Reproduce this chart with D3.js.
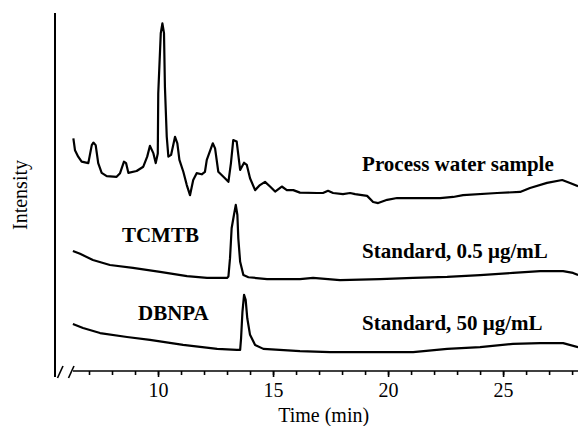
<!DOCTYPE html>
<html>
<head>
<meta charset="utf-8">
<script src="https://cdn.jsdelivr.net/npm/d3@7"></script>
<style>
  body { margin: 0; background: #fff; }
  svg { display: block; font-family: "Liberation Serif", "Times New Roman", serif; }
</style>
</head>
<body>
<svg id="chart" width="578" height="426"></svg>
<script>
// retention time (min) and intensity (arbitrary, traces stacked)
const waterTime = [6.32, 6.39, 6.53, 6.68, 6.97, 7.12, 7.19, 7.29, 7.40, 7.55, 7.77, 8.20, 8.35, 8.52, 8.61, 8.71, 9.07, 9.36, 9.53, 9.65, 9.80, 9.90, 9.99, 10.01, 10.12, 10.19, 10.26, 10.30, 10.38, 10.45, 10.57, 10.74, 10.84, 10.93, 11.10, 11.25, 11.39, 11.53, 11.68, 11.90, 12.04, 12.12, 12.38, 12.48, 12.62, 12.91, 13.06, 13.17, 13.27, 13.42, 13.57, 13.74, 13.86, 14.00, 14.22, 14.43, 14.65, 14.87, 15.09, 15.38, 15.60, 15.88, 16.17, 16.91, 17.17, 17.39, 17.61, 18.04, 18.35, 18.57, 19.09, 19.35, 19.57, 19.96, 20.39, 20.96, 21.52, 22.26, 22.83, 23.26, 24.74, 25.74, 26.17, 26.91, 27.57, 27.91, 28.26]
const waterInt = [65.2, 61.9, 60.1, 58.7, 58.3, 63.3, 64.0, 63.3, 58.3, 55.6, 54.7, 54.5, 55.5, 58.7, 58.3, 55.6, 56.1, 57.3, 60.1, 63.1, 61.0, 58.3, 61.0, 77.7, 94.4, 97.1, 94.4, 79.5, 65.6, 60.1, 60.6, 65.6, 63.8, 59.2, 55.9, 52.2, 49.4, 53.6, 55.5, 55.2, 55.9, 59.2, 63.8, 62.4, 55.9, 54.1, 53.1, 58.3, 64.7, 64.3, 56.4, 58.4, 57.8, 54.1, 50.8, 52.2, 53.1, 51.8, 50.4, 51.8, 50.8, 50.8, 50.1, 50.0, 50.0, 50.6, 50.0, 49.7, 50.0, 49.7, 49.2, 47.5, 47.2, 48.1, 48.6, 48.6, 48.6, 48.6, 48.9, 49.4, 50.0, 50.3, 51.4, 52.8, 53.6, 52.8, 51.9]

const tcmtbTime = [6.30, 6.61, 7.17, 7.91, 8.91, 10.09, 11.26, 12.13, 13.00, 13.06, 13.13, 13.20, 13.30, 13.38, 13.45, 13.49, 13.57, 13.71, 13.93, 14.74, 16.17, 16.74, 17.91, 19.65, 21.09, 22.57, 24.00, 25.43, 26.61, 27.61, 28.04, 28.26]
const tcmtbInt = [33.9, 33.1, 31.4, 30.0, 29.2, 28.1, 26.9, 26.4, 26.4, 26.8, 31.9, 40.2, 43.9, 46.7, 43.9, 37.4, 30.9, 27.2, 26.6, 26.1, 26.1, 26.4, 25.8, 26.1, 26.4, 26.7, 27.2, 27.8, 28.3, 28.3, 27.8, 27.2]

const dbnpaTime = [6.30, 6.74, 7.48, 8.65, 9.65, 11.09, 12.57, 13.43, 13.57, 13.61, 13.67, 13.74, 13.81, 13.88, 14.00, 14.22, 14.58, 16.17, 17.48, 19.65, 21.09, 22.57, 24.00, 25.43, 26.61, 27.61, 28.26]
const dbnpaInt = [13.6, 12.5, 11.1, 10.0, 9.2, 7.8, 6.7, 6.4, 6.4, 9.6, 17.0, 21.7, 20.3, 15.2, 10.6, 7.8, 6.7, 6.1, 5.8, 5.8, 5.8, 6.7, 7.2, 8.1, 8.3, 8.3, 7.2]

const majorTicks = [10, 15, 20, 25]
const minorTicks = d3.range(7, 29)

const traces = [
  { name: "Process water sample", time: waterTime, value: waterInt },
  { name: "Standard, 0.5 \u03bcg/mL", time: tcmtbTime, value: tcmtbInt },
  { name: "Standard, 50 \u03bcg/mL", time: dbnpaTime, value: dbnpaInt }
]

const svg = d3.select("#chart")

const x = d3.scaleLinear().domain([5.5, 28.3]).range([54.5, 579])
const y = d3.scaleLinear().domain([0, 100]).range([373, 13])
const axisY = 371

const line = d3.line()
  .x(d => x(d[0]))
  .y(d => y(d[1]))

svg.selectAll(".trace")
  .data(traces)
  .enter()
  .append("path")
  .attr("class", "trace")
  .attr("d", d => line(d.time.map((t, i) => [t, d.value[i]])))
  .attr("fill", "none")
  .attr("stroke", "#000")
  .attr("stroke-width", 2.2)
  .attr("stroke-linejoin", "round")

// y axis, no ticks
svg.append("line")
  .attr("x1", 55).attr("x2", 55)
  .attr("y1", 13).attr("y2", 377)
  .attr("stroke", "#000")
  .attr("stroke-width", 2)

// x axis: minor + major ticks
var gx = svg.append("g").attr("transform", "translate(0," + axisY + ")")

gx.append("g")
  .call(d3.axisBottom(x).tickValues(minorTicks).tickSize(4).tickFormat(""))
  .call(g => g.select(".domain").remove())

gx.append("g")
  .call(d3.axisBottom(x).tickValues(majorTicks).tickSize(6).tickFormat(d3.format("d")))
  .call(g => g.select(".domain").remove())
  .call(g => g.selectAll("text")
    .attr("y", 26).attr("dy", 0)
    .style("font-size", "20px")
    .style("font-family", "Liberation Serif, serif"))

gx.selectAll(".tick line").attr("stroke-width", 1.6)

gx.append("line")
  .attr("x1", 73).attr("x2", 578)
  .attr("stroke", "#000")
  .attr("stroke-width", 1.7)

// axis break marks
gx.selectAll(".brk")
  .data([57.5, 68.5])
  .enter()
  .append("line")
  .attr("class", "brk")
  .attr("x1", d => d).attr("y1", 7)
  .attr("x2", d => d + 5.5).attr("y2", -5)
  .attr("stroke", "#000")
  .attr("stroke-width", 1.6)

svg.append("text")
  .attr("x", x(17.2))
  .attr("y", 422)
  .attr("text-anchor", "middle")
  .style("font-size", "20px")
  .text("Time (min)")

svg.append("text")
  .attr("transform", "translate(27,195) rotate(-90)")
  .attr("text-anchor", "middle")
  .style("font-size", "20px")
  .text("Intensity")

// trace labels
var labels = [
  { text: traces[0].name, t: 18.87, v: 56.1 },
  { text: traces[1].name, t: 18.87, v: 31.9 },
  { text: traces[2].name, t: 18.87, v: 11.9 },
  { text: "TCMTB", t: 8.43, v: 36.4 },
  { text: "DBNPA", t: 9.13, v: 14.7 }
]

svg.selectAll(".lbl")
  .data(labels)
  .enter()
  .append("text")
  .attr("class", "lbl")
  .attr("x", d => x(d.t))
  .attr("y", d => y(d.v))
  .style("font-size", "21px")
  .style("font-weight", "bold")
  .text(d => d.text)
</script>
</body>
</html>
